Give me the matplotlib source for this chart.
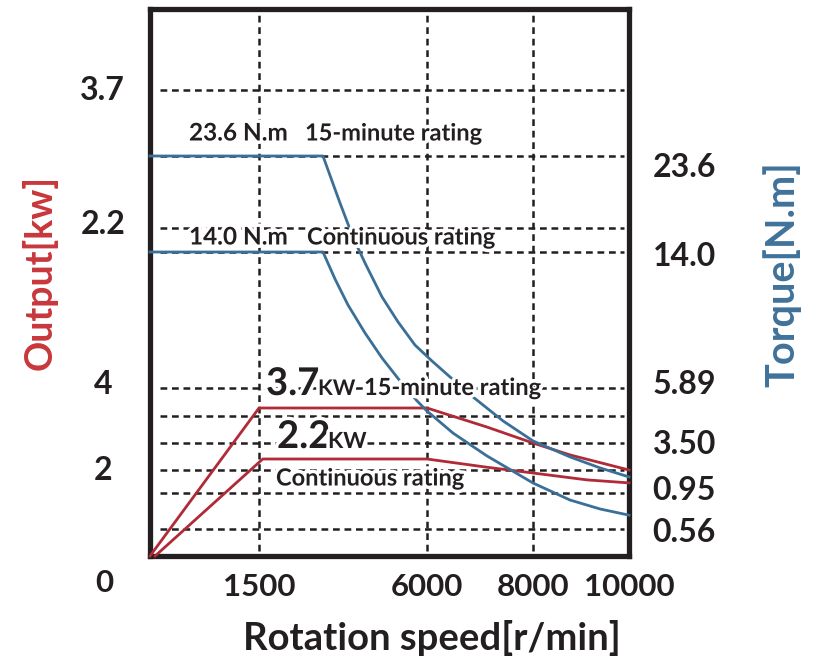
import numpy as np
import matplotlib
matplotlib.use("Agg")
import matplotlib.pyplot as plt
import matplotlib.patheffects as pe

# ---------------- data ----------------
speed_ticks = [1500, 6000, 8000, 10000]
speed_tick_labels = ["1500", "6000", "8000", "10000"]

left_labels = ["3.7", "2.2", "4", "2"]
right_labels = ["23.6", "14.0", "5.89", "3.50", "0.95", "0.56"]

# Output power curves [kW]
out15_speed = [0, 1500, 6000, 7132, 8000, 8771, 10000]
out15_kw = [0, 3.7, 3.7, 3.14, 2.67, 2.32, 2.0]
outc_speed = [70, 1600, 6000, 7132, 8000, 9125, 10000]
outc_kw = [0, 2.2, 2.2, 2.05, 1.93, 1.77, 1.70]

# Torque curves [N.m]
tq15_speed = [0, 3214, 3456, 3670, 3884, 4125, 4367, 4795, 5224, 5679, 6094,
              6434, 6868, 7434, 8000, 8771, 9396, 10000]
tq15_nm = [23.6, 23.6, 21.1, 18.9, 16.8, 14.6, 13.22, 11.32, 9.83, 8.45, 7.50,
           6.55, 5.50, 4.46, 3.59, 2.79, 2.23, 1.77]
tqc_speed = [0, 3214, 3536, 3884, 4340, 4795, 5277, 5733, 6000, 6491, 7132,
             8000, 8771, 9396, 10000]
tqc_nm = [14.0, 14.0, 12.39, 10.84, 9.17, 7.68, 6.31, 5.33, 4.89, 3.93, 2.84,
          1.46, 0.874, 0.777, 0.71]

# ---------------- layout (schematic, non-linear axes) ----------------
W, H = 813, 662
RED = "#B02A37"
BLUE = "#3A6F97"
RED_T = "#C8373C"
BLUE_T = "#40729A"
INK = "#231F20"
FONT = "Lato"

ax_left, ax_right, ax_top, ax_bot = 150, 629, 9, 556


def fr(px):
    """pixel row -> axes fraction"""
    return (ax_bot - np.asarray(px, float)) / (ax_bot - ax_top)


def pw(xk, yk):
    xk = np.asarray(xk, float)
    yk = np.asarray(yk, float)

    def f(v):
        v = np.asarray(v, float)
        out = np.interp(v, xk, yk)
        lo_s = (yk[1] - yk[0]) / (xk[1] - xk[0])
        hi_s = (yk[-1] - yk[-2]) / (xk[-1] - xk[-2])
        out = np.where(v < xk[0], yk[0] + (v - xk[0]) * lo_s, out)
        out = np.where(v > xk[-1], yk[-1] + (v - xk[-1]) * hi_s, out)
        return out
    return f


# speed scale knots
sp_knots = [0, 1500, 6000, 8000, 10000]
sp_pos = [(p - ax_left) / (ax_right - ax_left) for p in [150, 259, 427, 533, 629]]
sp_fwd, sp_inv = pw(sp_knots, sp_pos), pw(sp_pos, sp_knots)

# kW scale knots
kw_knots = [0, 2, 2.2, 3.7, 4]
kw_pos = fr([556, 470, 459, 408, 388])
kw_fwd, kw_inv = pw(kw_knots, kw_pos), pw(kw_pos, kw_knots)

# torque scale knots
tq_knots = [0, 0.56, 0.95, 3.50, 5.89, 14.0, 23.6]
tq_pos = fr([556, 529, 493, 443, 388, 252, 156])
tq_fwd, tq_inv = pw(tq_knots, tq_pos), pw(tq_pos, tq_knots)

grid_rows = [90, 156, 228, 252, 388, 416, 443, 470, 493, 529]
left_label_rows = [88, 222, 382, 468]
right_label_rows = [165, 254, 382, 442, 488, 530]

fig = plt.figure(figsize=(W / 100, H / 100), dpi=100)
fig.patch.set_facecolor("white")
rect = [ax_left / W, 1 - ax_bot / H, (ax_right - ax_left) / W, (ax_bot - ax_top) / H]

ax = fig.add_axes(rect)
ax.set_xscale("function", functions=(sp_fwd, sp_inv))
ax.set_xlim(0, 10000)
ax.set_ylim(0, 1)

for s in ax.spines.values():
    s.set_linewidth(3.8)
    s.set_color(INK)
    s.set_zorder(10)

dash = (0, (2.7, 1.9))
x0 = (160 - ax_left) / (ax_right - ax_left)
x1 = (624 - ax_left) / (ax_right - ax_left)
for r in grid_rows:
    ax.axhline(fr(r), xmin=x0, xmax=x1, color=INK, lw=1.8, ls=dash, zorder=1)
for s in speed_ticks[:-1]:
    ax.axvline(s, ymin=0.01, ymax=0.99, color=INK, lw=1.8, ls=dash, zorder=1)

TICK_FS = 23
ax.set_xticks(speed_ticks)
ax.set_xticklabels(speed_tick_labels)
ax.tick_params(axis="x", length=0, pad=12, labelsize=22.5)
ax.set_yticks(fr(left_label_rows))
ax.set_yticklabels(left_labels)
ax.tick_params(axis="y", length=0, pad=34, labelsize=TICK_FS)
for t in ax.get_yticklabels():
    t.set_ha("center")
for t in ax.get_xticklabels() + ax.get_yticklabels():
    t.set_fontfamily(FONT)
    t.set_fontweight("bold")
    t.set_color(INK)

ax_r = ax.twinx()
ax_r.set_ylim(0, 1)
ax_r.set_yticks(fr(right_label_rows))
ax_r.set_yticklabels(right_labels)
ax_r.tick_params(axis="y", length=0, pad=17, labelsize=TICK_FS)
for t in ax_r.get_yticklabels():
    t.set_fontfamily(FONT)
    t.set_fontweight("bold")
    t.set_color(INK)
for s in ax_r.spines.values():
    s.set_visible(False)

# output curves
ax_kw = ax.twinx()
ax_kw.set_yscale("function", functions=(kw_fwd, kw_inv))
ax_kw.set_ylim(0, float(kw_inv(1.0)))
ax_kw.plot(out15_speed, out15_kw, color=RED, lw=2.0, clip_on=False, zorder=3)
ax_kw.plot(outc_speed, outc_kw, color=RED, lw=2.0, clip_on=False, zorder=3)
ax_kw.axis("off")

# torque curves
ax_tq = ax.twinx()
ax_tq.set_yscale("function", functions=(tq_fwd, tq_inv))
ax_tq.set_ylim(0, float(tq_inv(1.0)))
ax_tq.plot(tq15_speed, tq15_nm, color=BLUE, lw=2.0, clip_on=False, zorder=3)
ax_tq.plot(tqc_speed, tqc_nm, color=BLUE, lw=2.0, clip_on=False, zorder=3)
ax_tq.axis("off")

halo = [pe.withStroke(linewidth=5, foreground="white")]


def ftext(x, y, s, size, ha="left", va="center", color=INK, rot=0, halo_on=True):
    t = fig.text(x / W, 1 - y / H, s, fontsize=size, ha=ha, va=va, color=color,
                 fontfamily=FONT, fontweight="bold", rotation=rot, zorder=20)
    if halo_on:
        t.set_path_effects(halo)
    return t


# annotations inside the plot
ANN = 17
ftext(189, 133, "23.6 N.m", 17.5)
ftext(305, 133, "15-minute rating", ANN)
ftext(189, 237, "14.0 N.m", 17.5)
ftext(307, 237, "Continuous rating", ANN)
ftext(266, 395, "3.7", 27.5, va="baseline")
ftext(318, 395, "KW", 15.5, va="baseline")
ftext(364, 395, "15-minute rating", ANN, va="baseline")
ftext(277, 448, "2.2", 27.5, va="baseline")
ftext(328, 448, "KW", 16, va="baseline")
ftext(276, 478, "Continuous rating", ANN)

# origin label and axis titles
ftext(104, 583, "0", 22.5, ha="center", halo_on=False)
ftext(432, 638, "Rotation speed[r/min]", 27.5, ha="center", halo_on=False)
ftext(40, 272, "Output[kw]", 27, ha="center", color=RED_T, rot=90, halo_on=False)
ftext(782, 274, "Torque[N.m]", 28.5, ha="center", color=BLUE_T, rot=90, halo_on=False)

fig.savefig("out.png", dpi=100, facecolor="white")
